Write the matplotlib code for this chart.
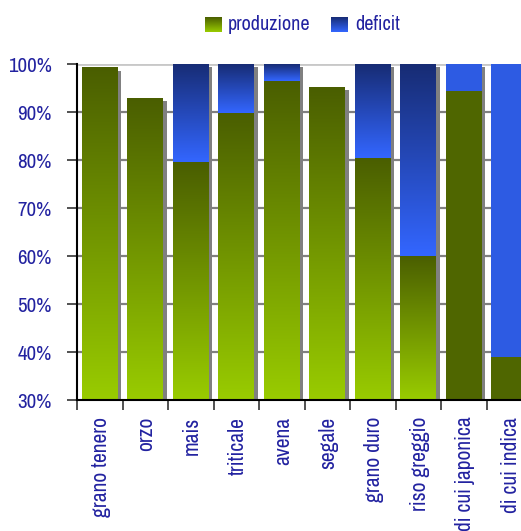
import matplotlib
matplotlib.use("Agg")
import matplotlib.pyplot as plt
import numpy as np
from matplotlib.colors import LinearSegmentedColormap
from matplotlib.patches import Rectangle

plt.rcParams["font.family"] = ["Archivo Narrow", "DejaVu Sans"]

# dati (percentuali)
categorie = ["grano tenero", "orzo", "mais", "triticale", "avena", "segale",
             "grano duro", "riso greggio", "di cui japonica", "di cui indica"]
produzione = [99.2, 92.9, 79.5, 89.8, 96.5, 95.2, 80.5, 60.1, 94.4, 39.0]
deficit = [0.0, 0.0, 20.5, 10.2, 3.5, 0.0, 19.5, 39.9, 5.6, 61.0]
# le ultime due barre hanno colore pieno, senza sfumatura
sfumata = [True, True, True, True, True, True, True, True, False, False]

TXT = "#2222a0"
verde = LinearSegmentedColormap.from_list("verde", ["#99cc00", "#4a5e00"])
blu = LinearSegmentedColormap.from_list("blu", ["#3366ff", "#172c74"])
VERDE_PIENO = "#4f6600"
BLU_PIENO = "#2d5be3"

W, H = 521, 531
fig = plt.figure(figsize=(W / 100, H / 100), dpi=100)
# l'area del grafico esce a destra dalla figura, come nell'originale
ax = fig.add_axes([77 / W, 131 / H, 455 / W, 336 / H])

ymin, ymax = 30, 100
larg = 0.79
dx_ombra = 3.5 / 45.5
dy_ombra = 3 / 4.8
grad = np.linspace(0, 1, 256).reshape(-1, 1)

for i, (p, d) in enumerate(zip(produzione, deficit)):
    x0, x1 = i - larg / 2, i + larg / 2
    top = min(p + d, ymax)
    ax.add_patch(Rectangle((x0 + dx_ombra, ymin), larg, top - dy_ombra - ymin,
                           facecolor="#808080", edgecolor="none", zorder=2))
    if sfumata[i]:
        ax.imshow(grad, cmap=verde, extent=(x0, x1, ymin, p), origin="lower",
                  aspect="auto", interpolation="bilinear", zorder=3)
        if d > 0:
            ax.imshow(grad, cmap=blu, extent=(x0, x1, p, top), origin="lower",
                      aspect="auto", interpolation="bilinear", zorder=3)
    else:
        ax.add_patch(Rectangle((x0, ymin), larg, p - ymin, facecolor=VERDE_PIENO,
                               edgecolor="none", zorder=3))
        if d > 0:
            ax.add_patch(Rectangle((x0, p), larg, top - p, facecolor=BLU_PIENO,
                                   edgecolor="none", zorder=3))

ax.set_xlim(-0.5, len(categorie) - 0.5)
ax.set_ylim(ymin, ymax)

# griglia
for y in range(40, 100, 10):
    ax.axhline(y, color="#808080", lw=1.6, zorder=1)
ax.axhline(100, color="#c8c8c8", lw=2, zorder=1)

yt = np.arange(30, 101, 10)
ax.set_yticks(yt, [f"{v}%" for v in yt])
ax.set_xticks(np.arange(len(categorie)) - 0.5)
ax.set_xticklabels([])
ax.set_xticks(np.arange(len(categorie)) + 0.03, categorie, minor=True)
ax.tick_params(axis="x", which="major", length=7, width=1.2, color="#333333")
ax.tick_params(axis="x", which="minor", length=0, pad=12, labelsize=15.5,
               labelcolor=TXT, labelrotation=90)
for t in ax.get_xticklabels(minor=True):
    t.set_va("top")
ax.tick_params(axis="y", length=7, width=1.2, color="#333333", pad=11,
               labelsize=15, labelcolor=TXT)

for s in ["top", "right"]:
    ax.spines[s].set_visible(False)
ax.spines["left"].set_linewidth(1.5)
ax.spines["bottom"].set_linewidth(1.5)
ax.spines["left"].set_zorder(5)
ax.spines["bottom"].set_zorder(5)

# legenda
for xpx, cmap, lab, xt in [(205, verde, "produzione", 228), (331, blu, "deficit", 355)]:
    lax = fig.add_axes([xpx / W, (H - 32) / H, 17 / W, 15 / H])
    lax.imshow(grad, cmap=cmap, origin="lower", aspect="auto", interpolation="bilinear")
    lax.axis("off")
    fig.text(xt / W, (H - 25) / H, lab, color=TXT, fontsize=14.5, va="center", ha="left")

fig.savefig("out.png", dpi=100)
